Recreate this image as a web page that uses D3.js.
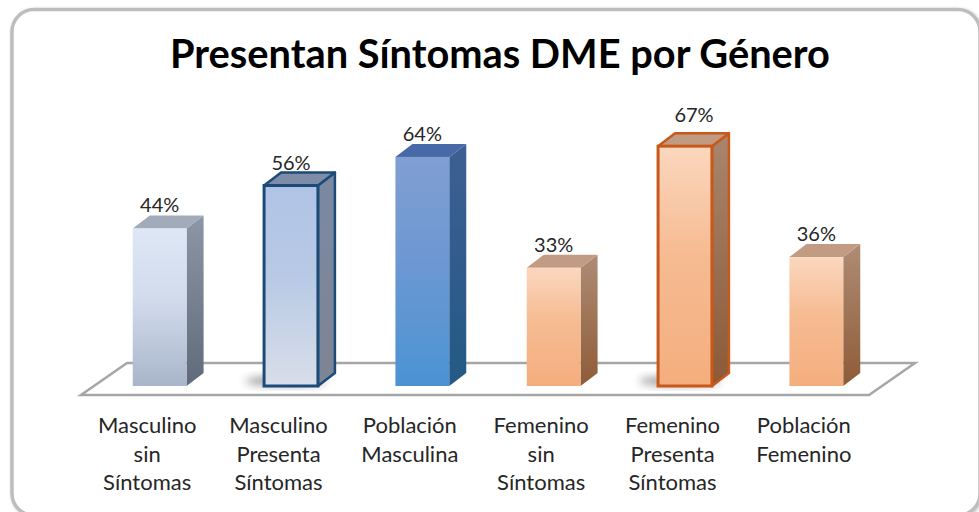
<!DOCTYPE html>
<html>
<head>
<meta charset="utf-8">
<script src="https://cdn.jsdelivr.net/npm/d3@7"></script>
<style>
  body { margin: 0; background: #fff; }
  text { font-family: Lato, "Noto Sans", sans-serif; fill: #262626; }
</style>
</head>
<body>
<div id="viz"></div>
<script>
// chart data
var categories = [
  "Masculino sin Síntomas",
  "Masculino Presenta Síntomas",
  "Población Masculina",
  "Femenino sin Síntomas",
  "Femenino Presenta Síntomas",
  "Población Femenino"
];
var values = [44, 56, 64, 33, 67, 36];
var valueLabels = ["44%", "56%", "64%", "33%", "67%", "36%"];
var title = "Presentan Síntomas DME por Género";

// bar styles (front gradient, side gradient, top colour, outline)
var styles = [
  { front: ["#dee7f5", "#d2dbec", "#a8b5ca"], side: ["#8c96a7", "#5f6a7a"], top: "#a2abba", stroke: null },
  { front: ["#b0c4e6", "#b8c9e5", "#d8dee9"], side: ["#7a89a1", "#7e8594"], top: "#7e8ca7", stroke: "#1d4b78" },
  { front: ["#809fd3", "#6d98d2", "#4a93d3"], side: ["#3e5f92", "#235a84"], top: "#4869a8", stroke: null },
  { front: ["#fbd7be", "#f6bb92", "#f4ae7e"], side: ["#ae8c74", "#8f5b38"], top: "#c19c83", stroke: null },
  { front: ["#fbd7be", "#f6bb92", "#f4ae7e"], side: ["#a8866e", "#8c5a37"], top: "#c09b82", stroke: "#c8591a" },
  { front: ["#fbd7be", "#f6bb92", "#f4ae7e"], side: ["#ae8c74", "#8f5b38"], top: "#c19c83", stroke: null }
];

var W = 979, H = 512;
var floorY = 395, floorLeft = 81, floorRight = 869;
var floorDepth = [46, -32];   // back edge of the floor
var barShift = [13, -9];      // front plane of the bars
var barDepth = [17, -13];

var svg = d3.select("#viz").append("svg")
  .attr("width", W)
  .attr("height", H);

var defs = svg.append("defs");

// chart frame
defs.append("filter").attr("id", "frameShadow")
  .append("feDropShadow")
  .attr("dx", 1).attr("dy", 1).attr("stdDeviation", 1.5)
  .attr("flood-color", "#000").attr("flood-opacity", 0.25);

svg.append("rect")
  .attr("x", 12).attr("y", 9.5)
  .attr("width", 968).attr("height", 506)
  .attr("rx", 22)
  .attr("fill", "#fff")
  .attr("stroke", "#bdbdbd")
  .attr("stroke-width", 3.5)
  .attr("filter", "url(#frameShadow)");

// scales
var x = d3.scaleBand()
  .domain(categories)
  .range([floorLeft, floorRight])
  .paddingInner(0.59)
  .paddingOuter(0.295);

var y = d3.scaleLinear()
  .domain([0, 100])
  .range([floorY, floorY - 358]);

// floor
var floorPts = [
  [floorLeft, floorY],
  [floorRight, floorY],
  [floorRight + floorDepth[0], floorY + floorDepth[1]],
  [floorLeft + floorDepth[0], floorY + floorDepth[1]]
];
svg.append("path")
  .attr("d", d3.line()(floorPts) + "Z")
  .attr("fill", "#fff")
  .attr("stroke", "#a6a6a6")
  .attr("stroke-width", 2.5)
  .attr("stroke-linejoin", "miter");

// gradients
styles.forEach(function (s, i) {
  var gf = defs.append("linearGradient").attr("id", "front" + i)
    .attr("x1", 0).attr("y1", 0).attr("x2", 0).attr("y2", 1);
  gf.append("stop").attr("offset", "0%").attr("stop-color", s.front[0]);
  gf.append("stop").attr("offset", "45%").attr("stop-color", s.front[1]);
  gf.append("stop").attr("offset", "100%").attr("stop-color", s.front[2]);
  var gs = defs.append("linearGradient").attr("id", "side" + i)
    .attr("x1", 0).attr("y1", 0).attr("x2", 0).attr("y2", 1);
  gs.append("stop").attr("offset", "0%").attr("stop-color", s.side[0]);
  gs.append("stop").attr("offset", "100%").attr("stop-color", s.side[1]);
});

defs.append("filter").attr("id", "blur")
  .attr("x", "-50%").attr("y", "-50%").attr("width", "200%").attr("height", "200%")
  .append("feGaussianBlur").attr("stdDeviation", 4);

var bars = svg.append("g")
  .attr("transform", "translate(" + barShift[0] + "," + barShift[1] + ")");

var data = categories.map(function (c, i) {
  return { cat: c, value: values[i], label: valueLabels[i], style: styles[i], i: i };
});

var bar = bars.selectAll("g.bar")
  .data(data)
  .enter().append("g")
  .attr("class", "bar");

// soft shadow under outlined bars
bar.filter(function (d) { return d.style.stroke; })
  .append("ellipse")
  .attr("cx", function (d) { return x(d.cat) + x.bandwidth() * 0.4; })
  .attr("cy", function (d) { return y(0) - 5; })
  .attr("rx", x.bandwidth() * 0.75)
  .attr("ry", 5)
  .attr("fill", "#222")
  .attr("opacity", 0.45)
  .attr("filter", "url(#blur)");

// side face
bar.append("path")
  .attr("d", function (d) {
    var x1 = x(d.cat) + x.bandwidth(), y0 = y(0), yt = y(d.value);
    return d3.line()([[x1, yt], [x1 + barDepth[0], yt + barDepth[1]],
      [x1 + barDepth[0], y0 + barDepth[1]], [x1, y0]]) + "Z";
  })
  .attr("fill", function (d) { return "url(#side" + d.i + ")"; })
  .attr("stroke", function (d) { return d.style.stroke || "none"; })
  .attr("stroke-width", function (d) { return d.style.stroke ? 2.5 : 0; })
  .attr("stroke-linejoin", "round");

// top face
bar.append("path")
  .attr("d", function (d) {
    var x0 = x(d.cat), x1 = x0 + x.bandwidth(), yt = y(d.value);
    return d3.line()([[x0, yt], [x0 + barDepth[0], yt + barDepth[1]],
      [x1 + barDepth[0], yt + barDepth[1]], [x1, yt]]) + "Z";
  })
  .attr("fill", function (d) { return d.style.top; })
  .attr("stroke", function (d) { return d.style.stroke || "none"; })
  .attr("stroke-width", function (d) { return d.style.stroke ? 2.5 : 0; })
  .attr("stroke-linejoin", "round");

// front face
bar.append("rect")
  .attr("x", function (d) { return x(d.cat); })
  .attr("y", function (d) { return y(d.value); })
  .attr("width", x.bandwidth())
  .attr("height", function (d) { return y(0) - y(d.value); })
  .attr("fill", function (d) { return "url(#front" + d.i + ")"; })
  .attr("stroke", function (d) { return d.style.stroke || "none"; })
  .attr("stroke-width", function (d) { return d.style.stroke ? 3 : 0; });

// value labels
bar.append("text")
  .attr("x", function (d) { return x(d.cat) + x.bandwidth() / 2 + (d.i === 4 ? 9 : 0); })
  .attr("y", function (d) { return y(d.value) - (d.i === 4 ? 24 : 16); })
  .attr("text-anchor", "middle")
  .style("font-size", "20px")
  .text(function (d) { return d.label; });

// category axis along the front edge of the floor
var xAxis = d3.axisBottom(d3.scalePoint()
    .domain(categories)
    .range([floorLeft + x.step() / 2, floorRight - x.step() / 2]))
  .tickSize(0)
  .tickPadding(0);

var axis = svg.append("g")
  .attr("transform", "translate(0," + floorY + ")")
  .call(xAxis);
axis.select(".domain").remove();
axis.selectAll(".tick text").each(function (d) {
  var words = d.split(" ");
  var t = d3.select(this).text(null).attr("y", 0).attr("dy", null)
    .style("font-size", "22px")
    .attr("fill", "#262626");
  var lines = words.length === 3 ? words : [words[0], words[1]];
  lines.forEach(function (w, k) {
    t.append("tspan")
      .attr("x", 0)
      .attr("y", 38 + k * 28.5)
      .text(w);
  });
});
axis.selectAll(".tick text").style("font-family", "Lato, 'Noto Sans', sans-serif");

// title
var titleText = svg.append("text")
  .attr("x", 500)
  .attr("y", 68)
  .attr("text-anchor", "middle")
  .style("font-weight", "bold")
  .style("font-size", "40px")
  .style("fill", "#000")
  .text(title);
var tw = titleText.node().getComputedTextLength();
titleText.style("font-size", (40 * 660 / tw) + "px");
</script>
</body>
</html>
